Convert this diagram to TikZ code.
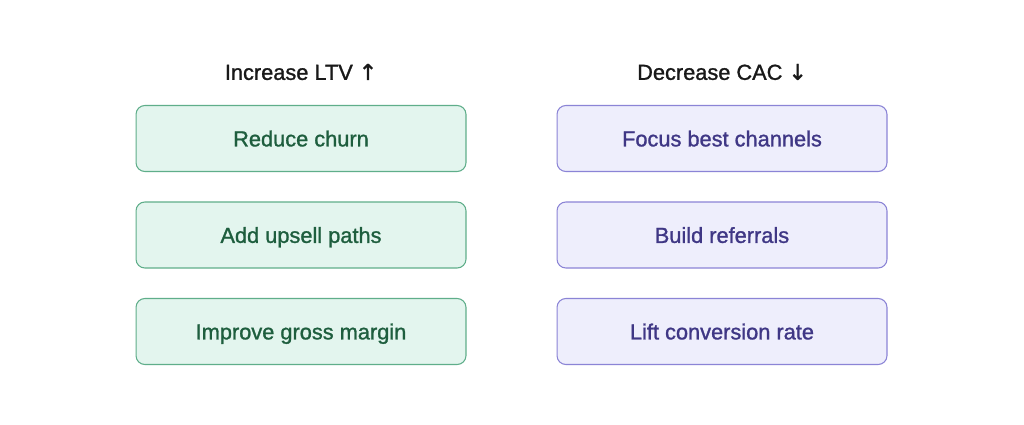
\documentclass[tikz,border=0pt]{standalone}
\usepackage{fontspec}
\setmainfont{Liberation Sans}
\newfontfamily\medfont{Liberation Sans}[FakeBold=1.2]
\newfontfamily\arrowfont{DejaVu Sans}[FakeBold=1.5]
\usepackage{xcolor}
\usetikzlibrary{positioning}
\definecolor{ltvfill}{HTML}{E3F5EE}
\definecolor{ltvline}{HTML}{5FAE8A}
\definecolor{ltvtext}{HTML}{1E5E3E}
\definecolor{cacfill}{HTML}{EEEEFC}
\definecolor{cacline}{HTML}{8B84D6}
\definecolor{cactext}{HTML}{3F3785}
\begin{document}
\begin{tikzpicture}[
    x=0.02cm, y=-0.02cm,
    lever/.style={draw, rectangle, rounded corners=5pt, line width=0.6pt,
                  minimum width=6.6cm, minimum height=1.32cm,
                  text height=1.95ex, text depth=0.25ex,
                  font=\medfont\fontsize{12.4}{14}\selectfont},
    ltv/.style={lever, fill=ltvfill, draw=ltvline, text=ltvtext},
    cac/.style={lever, fill=cacfill, draw=cacline, text=cactext},
    head/.style={font=\medfont\fontsize{12.4}{14}\selectfont, text=black!90}
  ]
  \useasboundingbox[fill=white] (0,0) rectangle (1024,425);
  % Headers
  \node[head] (hltv) at (301, 72) {Increase LTV {\arrowfont ↑}};
  \node[head] (hcac) at (722, 72) {Decrease CAC {\arrowfont ↓}};
  % LTV levers
  \foreach \i/\content in {1/Reduce churn, 2/Add upsell paths,
                           3/Improve gross margin} {
    \node[ltv] (l\i) at (301, 42+96.5*\i) {\content};
  }
  % CAC levers
  \foreach \i/\content in {1/Focus best channels, 2/Build referrals,
                           3/Lift conversion rate} {
    \node[cac] (c\i) at (722, 42+96.5*\i) {\content};
  }
\end{tikzpicture}
\end{document}
